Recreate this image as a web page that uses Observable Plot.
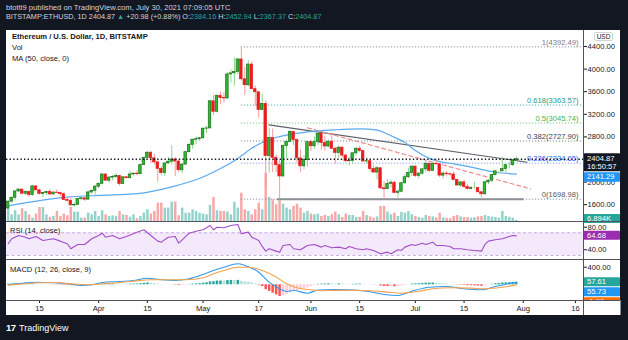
<!DOCTYPE html>
<html><head><meta charset="utf-8">
<script src="https://cdn.jsdelivr.net/npm/d3@7"></script>
<script src="https://cdn.jsdelivr.net/npm/@observablehq/plot@0.6"></script>
<style>
html,body{margin:0;padding:0}
body{width:628px;height:340px;background:#131722;overflow:hidden;position:relative;font-family:"Liberation Sans",Arial,sans-serif}
#root{position:absolute;left:0;top:0;width:628px;height:340px}
.t{position:absolute;white-space:nowrap;line-height:10px}
.a{position:absolute}
</style></head><body><div id="root"></div>
<script>
// ---------- DATA ----------
const firstDay = "2021-03-06";
const lastDay = "2021-07-30";
const open = [1533,1654,1723,1835,1868,1795,1825,1772,1924,1854,1792,1806,1823,1782,1815,1806,1786,1683,1670,1588,1596,1701,1713,1690,1817,1847,
1919,1970,2135,2025,2080,2090,2110,1965,2085,2070,2135,2150,2140,2300,2430,2520,2420,2350,2235,2160,2330,2360,2400,2365,2210,2310,2530,2660,2750,2760,
2775,2945,2950,3430,3245,3525,3490,3480,3905,3925,3950,4170,3820,3715,4080,3645,3590,3275,3385,2460,2780,2430,2300,2100,2640,2710,2890,2745,2420,2280,2390,
2707,2634,2706,2855,2690,2630,2715,2590,2515,2610,2470,2370,2375,2510,2590,2550,2365,2370,2230,2170,2245,1890,1875,1970,1990,1810,1830,1980,2085,2160,
2275,2110,2150,2225,2325,2200,2320,2315,2115,2150,2140,2135,2040,1940,1995,1915,1880,1895,1895,1820,1785,1995,2025,2125,2190,2190,2230,2300,2300,2384.16];
const high = [1670,1735,1840,1880,1875,1845,1840,1940,1935,1875,1815,1835,1870,1830,1865,1820,1810,1725,1735,1630,1710,1730,1730,1840,1860,1945,
1990,2145,2145,2100,2120,2150,2120,2095,2100,2195,2160,2200,2320,2440,2545,2545,2495,2370,2270,2350,2440,2645,2435,2375,2335,2545,2675,2760,2800,2790,
2955,2985,3450,3535,3545,3600,3590,3940,3985,4200,4190,4392.49,4030,4150,4130,3700,3600,3560,3440,2950,2940,2480,2380,2650,2750,2910,2895,2760,2570,2470,2720,
2740,2800,2890,2860,2815,2745,2845,2620,2640,2625,2495,2440,2520,2620,2630,2560,2430,2375,2285,2270,2250,2010,2045,2035,2010,1865,1990,2140,2250,2280,
2280,2160,2240,2395,2330,2350,2410,2330,2190,2190,2160,2180,2045,2010,2030,1960,1920,1995,1910,1830,2015,2045,2130,2200,2195,2440,2315,2345,2395,2452.94];
const low = [1510,1630,1680,1810,1775,1765,1730,1750,1850,1770,1730,1760,1770,1770,1800,1740,1670,1650,1580,1550,1590,1670,1660,1680,1780,1770,
1885,1955,2015,1990,2020,2065,1930,1960,2055,2060,2110,2110,2135,2290,2420,2330,2310,2000,2110,2100,2320,2300,2100,2170,2150,2300,2515,2580,2660,2720,
2770,2860,2945,3180,3225,3370,3400,3465,3750,3700,3900,3790,3530,3685,3635,3340,3130,3270,1900,2160,2170,2170,1710,2090,2410,2700,2650,2320,2170,2220,2270,
2540,2580,2650,2560,2550,2610,2580,2320,2420,2430,2340,2290,2320,2470,2520,2350,2320,2180,2150,2040,1875,1700,1870,1890,1800,1720,1810,1960,2070,2100,
2080,2050,2120,2180,2170,2190,2310,2080,2050,2090,2095,2020,1925,1900,1890,1860,1860,1875,1810,1720,1770,1955,1990,2110,2150,2185,2160,2230,2275,2367.37];
const close = [1654,1723,1835,1868,1795,1825,1772,1924,1854,1792,1806,1823,1782,1815,1806,1786,1683,1670,1588,1596,1701,1713,1690,1817,1847,1919,
1970,2135,2025,2080,2090,2110,1965,2085,2070,2135,2150,2140,2300,2430,2520,2420,2350,2235,2160,2330,2360,2400,2365,2210,2310,2530,2660,2750,2760,2775,
2945,2950,3430,3245,3525,3490,3480,3905,3925,3950,4170,3820,3715,4080,3645,3590,3275,3385,2460,2780,2430,2300,2100,2640,2710,2890,2745,2420,2280,2390,2707,
2634,2706,2855,2690,2630,2715,2590,2515,2610,2470,2370,2375,2510,2590,2550,2365,2370,2230,2170,2245,1890,1875,1970,1990,1810,1830,1980,2085,2160,2275,
2110,2150,2225,2325,2200,2320,2315,2115,2150,2140,2135,2040,1940,1995,1915,1880,1895,1895,1820,1785,1995,2025,2125,2190,2190,2230,2300,2300,2384.16,2404.87];
// volume in thousands of ETH
const volume = [83,43,70,43,83,65,43,22,48,91,91,43,26,33,65,33,48,37,91,61,61,22,22,54,43,65,
33,70,43,33,37,33,65,
43,39,28,43,18,33,54,76,48,65,119,119,87,87,126,126,37,87,54,54,76,65,54,48,43,104,156,70,65,65,61,43,124,87,
184,76,65,44,76,119,76,314,156,141,109,135,112,87,76,98,112,87,54,65,
48,44,48,33,39,33,44,61,44,26,48,39,39,
26,26,65,39,30,22,30,98,98,61,44,54,33,59,54,65,44,
33,26,22,39,33,30,24,54,24,20,18,33,39,30,26,26,22,24,30,33,39,33,28,26,22,65,33,28,22,6.89];
const hist = [12,14,16,15,12,10,8, 10,8,5,3,0,-3,-5,-6, -8,-10,-14,-18,-20,-18,-15,-12,-5,0,5,
10,18,20,22,22,20,15,14,13,14, 15,16,25,35,40,36,28,15,5,2, 0,-2,-8,-15,-12,-5,5,15,20,25,
35,45,65,70,85,85,80,95,100,98, 100,80,65,60,40,20,-10,-40,-110,-150, -190,-230,-265,-250,-220,-180,-150,-140,-120,-95,-65,
-40,-15,10,15,18,22,20,18,20,15, 8,5,10,15,15,8,5,0,-5,-5, -25,-38,-40,-38,-45,-42,-30,-15,0,15,
20,25,30,38,38,40,38,28,22,18, 12,5,-5,-8,-15,-20,-22,-25,-30,-32, -20,-5,10,25,32,40,45,48,52,57.61];

const maDates = ["2021-03-06","2021-03-23","2021-04-01","2021-04-12","2021-04-22","2021-05-01","2021-05-06","2021-05-11","2021-05-15","2021-05-18","2021-05-22","2021-05-30","2021-06-08","2021-06-15","2021-06-20","2021-06-24","2021-06-28","2021-07-01","2021-07-05","2021-07-09","2021-07-12","2021-07-17","2021-07-24","2021-07-30"];
const maValues = [1580,1733,1765,1795,1915,2090,2240,2420,2600,2700,2790,2880,2926,2943,2920,2820,2700,2560,2420,2350,2324,2264,2175,2141.29];

const rsiDates = ["2021-03-06","2021-03-07","2021-03-09","2021-03-11","2021-03-12","2021-03-14","2021-03-16","2021-03-19","2021-03-21","2021-03-23","2021-03-24","2021-03-26","2021-03-28","2021-03-30","2021-04-01","2021-04-02","2021-04-03","2021-04-05","2021-04-07","2021-04-09","2021-04-12","2021-04-14","2021-04-16","2021-04-18","2021-04-19","2021-04-21","2021-04-23","2021-04-24","2021-04-25","2021-04-27","2021-04-29","2021-05-01","2021-05-02","2021-05-03","2021-05-04","2021-05-05","2021-05-07","2021-05-09","2021-05-11","2021-05-12","2021-05-14","2021-05-15","2021-05-17","2021-05-18","2021-05-19","2021-05-20","2021-05-22","2021-05-23","2021-05-24","2021-05-26","2021-05-27","2021-05-29","2021-05-31","2021-06-02","2021-06-04","2021-06-05","2021-06-07","2021-06-09","2021-06-11","2021-06-12","2021-06-14","2021-06-16","2021-06-17","2021-06-19","2021-06-21","2021-06-23","2021-06-24","2021-06-26","2021-06-27","2021-06-28","2021-06-30","2021-07-01","2021-07-03","2021-07-04","2021-07-06","2021-07-07","2021-07-09","2021-07-11","2021-07-12","2021-07-14","2021-07-16","2021-07-18","2021-07-20","2021-07-21","2021-07-22","2021-07-24","2021-07-26","2021-07-28","2021-07-29","2021-07-30"];
const rsiValues = [50.7,59.5,65.3,62.3,59.5,63.6,56.5,59.5,55.3,50.7,41.8,49.4,49.4,59.5,65.3,69.4,62.3,65.3,59.5,63.6,71.2,75.4,65.3,55.3,53.5,62.3,63.6,51.7,57.7,69.4,72.9,75.4,78.9,83,75.4,80,78.9,83,84.8,68.3,71.2,62.3,56.5,45.9,37.6,41.8,37.6,35.8,47.7,49.4,41.8,40.1,47.7,49.4,44.7,47.7,43.6,44.7,41.8,45.9,41.8,40.1,41.8,38.8,33,35.8,33,40.1,38.8,44.7,49.4,47.7,51.7,49.4,53.5,47.7,47.7,45.9,41.8,41.8,40.1,38.8,37.6,49.4,55.3,57.7,59.5,63.6,65.3,64.68];

const macdDates = ["2021-03-06","2021-03-10","2021-03-14","2021-03-19","2021-03-23","2021-03-27","2021-03-30","2021-04-02","2021-04-07","2021-04-11","2021-04-15","2021-04-19","2021-04-23","2021-04-27","2021-05-01","2021-05-04","2021-05-07","2021-05-11","2021-05-13","2021-05-17","2021-05-20","2021-05-23","2021-05-25","2021-05-27","2021-05-31","2021-06-03","2021-06-08","2021-06-12","2021-06-17","2021-06-22","2021-06-26","2021-06-30","2021-07-05","2021-07-10","2021-07-15","2021-07-20","2021-07-24","2021-07-30"];
const macdValues = [7,36,59,45,23,-16,0,52,75,98,150,114,98,136,234,325,400,477,439,286,59,-91,-152,-130,-191,-120,-110,-112,-145,-220,-243,-145,-55,-39,-91,-114,-39,55.73];
const signalDates = ["2021-03-06","2021-03-11","2021-03-15","2021-03-20","2021-03-24","2021-03-29","2021-04-02","2021-04-07","2021-04-11","2021-04-16","2021-04-21","2021-04-26","2021-05-01","2021-05-04","2021-05-07","2021-05-11","2021-05-14","2021-05-18","2021-05-22","2021-05-25","2021-05-28","2021-06-01","2021-06-04","2021-06-09","2021-06-14","2021-06-18","2021-06-23","2021-06-27","2021-07-02","2021-07-06","2021-07-11","2021-07-17","2021-07-21","2021-07-26","2021-07-30"];
const signalValues = [-8,23,45,52,23,0,23,52,82,114,114,114,159,250,325,400,400,325,175,23,-68,-114,-135,-128,-125,-135,-167,-191,-145,-91,-68,-76,-91,-55,-1.88];

const fibLevels = ["1","0.618","0.5","0.382","0.236","0"];
const fibPrices = [4392.49,3363.57,3045.74,2727.90,2334.65,1698.98];
const fibLineColors = ["#9598a1","#4db6ac","#81c784","#8a8d96","#90a4f0","#9598a1"];
const fibTextColors = ["#787b86","#22a08c","#4caf50","#3c3f48","#2962ff","#555862"];
const fibStartDay = "2021-05-12";
const resistDates = ["2021-05-19T22:00:00Z","2021-08-02T02:00:00Z"];
const resistPrices = [3014,2352];
const redTrendDates = ["2021-05-31T00:00:00Z","2021-08-03T02:00:00Z"];
const redTrendPrices = [2961,1881];
const supportDates = ["2021-05-22T07:00:00Z","2021-08-01T05:00:00Z"];
const supportPrice = 1695;
const priceTicks = [1600,2000,2400,2800,3200,3600,4000,4400];
const hiddenPriceLabels = [2400]; // covered by the last-price badge in the reference
const rsiTicks = [40,80];
const rsiBandLow = 30, rsiBandHigh = 70;
const macdTicks = [400];
const xTickDates = ["2021-03-15","2021-04-01","2021-04-15","2021-05-01","2021-05-17","2021-06-01","2021-06-15","2021-07-01","2021-07-15","2021-08-01","2021-08-16"];
const xTickLabels = ["15","Apr","15","May","17","Jun","15","Jul","15","Aug","16"];
const lastPrice = 2404.87, countdown = "16:50:57";
const maLast = 2141.29, rsiLast = 64.68, histLast = 57.61, macdLast = 55.73, signalLast = -1.88, volLast = "6.894K";

// ---------- BUILD ----------
const FONT = '"Liberation Sans", Arial, sans-serif';
const root = document.getElementById("root");
function el(tag, cls, css, html) { const e = document.createElement(tag); if (cls) e.className = cls; Object.assign(e.style, css); if (html != null) e.innerHTML = html; root.appendChild(e); return e; }
function put(node, left, top) { node.style.position = "absolute"; node.style.left = left + "px"; node.style.top = top + "px"; root.appendChild(node); return node; }

const utc = s => new Date(s.length === 10 ? s + "T00:00:00Z" : s);
const days = d3.utcDay.range(utc(firstDay), d3.utcDay.offset(utc(lastDay), 1));
const candles = days.map((date, i) => ({
  date, o: open[i], h: high[i], l: low[i], c: close[i], v: volume[i], hist: hist[i], up: close[i] >= open[i],
  x1: new Date(+date - 0.36 * 864e5), x2: new Date(+date + 0.36 * 864e5)
}));
candles.forEach((d, i) => {
  const prev = i ? hist[i - 1] : hist[i];
  d.hcol = d.hist >= 0 ? (d.hist >= prev ? "#26a69a" : "#b2dfdb") : (d.hist < prev ? "#ff5252" : "#ffcdd2");
});
const ma = maDates.map((d, i) => ({date: utc(d), v: maValues[i]}));
const rsi = rsiDates.map((d, i) => ({date: utc(d), v: rsiValues[i]}));
const macd = macdDates.map((d, i) => ({date: utc(d), v: macdValues[i]}));
const signal = signalDates.map((d, i) => ({date: utc(d), v: signalValues[i]}));

const xDomain = [new Date("2021-03-05T12:30:00Z"), new Date("2021-08-18T07:40:00Z")];
const fibs = fibLevels.map((lv, i) => ({lv, p: fibPrices[i], col: fibLineColors[i], tcol: fibTextColors[i],
  label: `${lv}(${fibPrices[i].toFixed(2)})`, start: utc(fibStartDay), end: xDomain[1]}));
const resist = resistDates.map((d, i) => ({date: utc(d), p: resistPrices[i]}));
const redTrend = redTrendDates.map((d, i) => ({date: utc(d), p: redTrendPrices[i]}));
const support = [{p: supportPrice, start: utc(supportDates[0]), end: utc(supportDates[1])}];
const rsiBand = {lo: rsiBandLow, hi: rsiBandHigh, start: xDomain[0], end: xDomain[1]};
const tickLabel = new Map(xTickDates.map((d, i) => [+utc(d), xTickLabels[i]]));
const f2 = d3.format(".2f");

const W = 614, MR = 37;
const baseStyle = {background: "transparent", fontFamily: FONT, fontSize: "7.6px", color: "#131722", overflow: "visible"};
const common = {width: W, marginLeft: 0, marginRight: MR, marginTop: 0, style: baseStyle};

// panel background
el("div", "a", {left: "6px", top: "30px", width: "614px", height: "285px", background: "#ffffff"});

// volume overlay
const volPlot = Plot.plot({...common, height: 191, marginBottom: 0,
  x: {type: "utc", domain: xDomain, axis: null},
  y: {domain: [0, 1240], axis: null},
  color: {type: "identity"},
  marks: [Plot.ruleX(candles, {x: "date", y1: 0, y2: "v", stroke: d => d.up ? "#93d3cc" : "#f7a9a8", strokeWidth: 2.5})]
});
put(volPlot, 6, 30);

// main price pane
const mainPlot = Plot.plot({...common, height: 191, marginBottom: 0,
  x: {type: "utc", domain: xDomain, axis: null},
  y: {domain: [1303, 4683], axis: "right", ticks: priceTicks, tickFormat: d => hiddenPriceLabels.includes(d) ? "" : f2(d), tickSize: 3, tickPadding: 1, label: null},
  color: {type: "identity"},
  marks: [
    Plot.ruleY(fibs, {y: "p", x1: "start", x2: "end", stroke: "col", strokeWidth: 1, strokeDasharray: "1.3,1.7"}),
    Plot.ruleY(support, {y: "p", x1: "start", x2: "end", stroke: "#8d8f96", strokeWidth: 2}),
    Plot.line(resist, {x: "date", y: "p", stroke: "#5d6069", strokeWidth: 1.2}),
    Plot.line(redTrend, {x: "date", y: "p", stroke: "#f08c8c", strokeWidth: 1.2, strokeDasharray: "4,3"}),
    Plot.line(ma, {x: "date", y: "v", stroke: "#5aaaf2", strokeWidth: 1.2, curve: "monotone-x"}),
    Plot.ruleX(candles, {x: "date", y1: "l", y2: "h", stroke: d => d.up ? "#8fd48f" : "#f49c9c", strokeWidth: 1}),
    Plot.rect(candles, {x1: "x1", x2: "x2", y1: "o", y2: "c", fill: d => d.up ? "#2dbb2d" : "#ea1d1d", stroke: d => d.up ? "#1a6f1a" : "#ea1d1d", strokeWidth: 0.7}),
    Plot.text(fibs, {y: "p", frameAnchor: "right", dx: -5, dy: -4.5, text: "label", fill: "tcol", textAnchor: "end", fontSize: 7.6}),
    Plot.ruleY([lastPrice], {stroke: "#131722", strokeWidth: 1.4, strokeDasharray: "1.4,2.2"})
  ]
});
put(mainPlot, 6, 30);

function axisBox(svg, yTop, h, fill, texts) {
  const g = d3.select(svg).append("g");
  g.append("rect").attr("x", W - MR + 0.5).attr("y", yTop).attr("width", MR - 0.5).attr("height", h).attr("fill", fill).attr("rx", 1);
  texts.forEach(t => g.append("text").attr("x", W - MR + 4).attr("y", t.y).attr("fill", t.color || "#fff")
    .attr("text-anchor", "start").attr("font-size", 7.6).attr("font-family", FONT).attr("dominant-baseline", "middle").text(t.s));
}
const yMain = mainPlot.scale("y");
const yP = yMain.apply(lastPrice);
axisBox(mainPlot, yP - 5.5, 18, "#131722", [{s: lastPrice.toFixed(2), y: yP}, {s: countdown, y: yP + 8.5}]);
const yMa = Math.max(yMain.apply(maLast) - 4.5, yP + 13.5);
axisBox(mainPlot, yMa, 9.5, "#2196f3", [{s: maLast.toFixed(2), y: yMa + 4.9}]);
axisBox(mainPlot, 184, 9, "#26a69a", [{s: volLast, y: 188.6}]);
// USD badge
const ub = d3.select(mainPlot).append("g");
ub.append("rect").attr("x", 588.5).attr("y", 2.5).attr("width", 18).attr("height", 8).attr("rx", 1.5).attr("fill", "#fff").attr("stroke", "#d1d4dc");
ub.append("text").attr("x", 597.5).attr("y", 6.8).attr("text-anchor", "middle").attr("dominant-baseline", "middle").attr("font-size", 6.5).attr("font-family", FONT).attr("fill", "#131722").text("USD");

// RSI pane
const rsiPlot = Plot.plot({...common, height: 37, marginBottom: 0,
  x: {type: "utc", domain: xDomain, axis: null},
  y: {domain: [22.8, 88.3], axis: "right", ticks: rsiTicks, tickFormat: f2, tickSize: 3, tickPadding: 1, label: null},
  marks: [
    Plot.rect([rsiBand], {x1: "start", x2: "end", y1: "lo", y2: "hi", fill: "#f3e9fb"}),
    Plot.ruleY([rsiBand.lo, rsiBand.hi], {stroke: "#c2aede", strokeDasharray: "3,2.5", strokeWidth: 1}),
    Plot.line(rsi, {x: "date", y: "v", stroke: "#a24cc8", strokeWidth: 1.1})
  ]
});
put(rsiPlot, 6, 222);
const yR = rsiPlot.scale("y").apply(rsiLast);
axisBox(rsiPlot, yR - 4.5, 9, "#9a2db0", [{s: rsiLast.toFixed(2), y: yR + 0.3}]);

// MACD pane + time axis
const macdPlot = Plot.plot({...common, height: 55, marginBottom: 15,
  x: {type: "utc", domain: xDomain, ticks: xTickDates.map(utc), tickFormat: d => tickLabel.get(+d), tickSize: 3, tickPadding: 2, label: null},
  y: {domain: [-357, 552], axis: "right", ticks: macdTicks, tickFormat: f2, tickSize: 3, tickPadding: 1, label: null},
  color: {type: "identity"},
  marks: [
    Plot.ruleX(candles, {x: "date", y1: 0, y2: "hist", stroke: "hcol", strokeWidth: 2.5}),
    Plot.line(macd, {x: "date", y: "v", stroke: "#2d9bf0", strokeWidth: 1.1, curve: "monotone-x"}),
    Plot.line(signal, {x: "date", y: "v", stroke: "#f7a04a", strokeWidth: 1.1, curve: "monotone-x"})
  ]
});
put(macdPlot, 6, 260);
const yH = macdPlot.scale("y").apply(histLast);
axisBox(macdPlot, yH - 4.5, 9, "#26a69a", [{s: histLast.toFixed(2), y: yH + 0.3}]);
axisBox(macdPlot, yH + 5.5, 9, "#2196f3", [{s: macdLast.toFixed(2), y: yH + 10.3}]);
axisBox(macdPlot, yH + 15.5, 9, "#ff6d00", [{s: signalLast.toFixed(2), y: yH + 20.3}]);
d3.select(macdPlot).append("rect").attr("x", W - MR + 0.5).attr("y", 40).attr("width", MR).attr("height", 15).attr("fill", "#fff");

// separators
el("div", "a", {left: "6px", top: "221px", width: "614px", height: "1px", background: "#50535e"});
el("div", "a", {left: "6px", top: "259px", width: "614px", height: "1px", background: "#50535e"});
el("div", "a", {left: "6px", top: "300px", width: "614px", height: "1px", background: "#50535e"});
el("div", "a", {left: "583px", top: "30px", width: "1px", height: "285px", background: "#50535e"});

// legends
const lg = {fontSize: "7.6px", color: "#131722"};
el("div", "t", {...lg, left: "12px", top: "32px", fontWeight: "bold"}, "Ethereum / U.S. Dollar, 1D, BITSTAMP");
el("div", "t", {...lg, left: "12px", top: "43px"}, "Vol");
el("div", "t", {...lg, left: "12px", top: "53.5px"}, "MA (50, close, 0)");
el("div", "t", {...lg, left: "10px", top: "226px"}, "RSI (14, close)");
el("div", "t", {...lg, left: "10px", top: "265px"}, "MACD (12, 26, close, 9)");

// header
el("div", "t", {fontSize: "7.6px", color: "#d1d4dc", left: "6px", top: "3px"}, "btotti9 published on TradingView.com, July 30, 2021 07:09:05 UTC");
const g = s => `<span style="color:#26a69a">${s}</span>`;
el("div", "t", {fontSize: "7.25px", color: "#d1d4dc", left: "6px", top: "12px"},
  `BITSTAMP:ETHUSD, 1D ${lastPrice.toFixed(2)} ${g("▲")} +20.98 (+0.88%) O:${g("2384.16")} H:${g("2452.94")} L:${g("2367.37")} C:${g(lastPrice.toFixed(2))}`);

// footer logo
el("div", "t", {left: "6px", top: "323px", fontSize: "9.5px", color: "#ffffff", fontWeight: "bold", letterSpacing: "-0.5px"}, "17");
el("div", "t", {left: "19px", top: "323px", fontSize: "9px", color: "#ffffff"}, "TradingView");
</script></body></html>
